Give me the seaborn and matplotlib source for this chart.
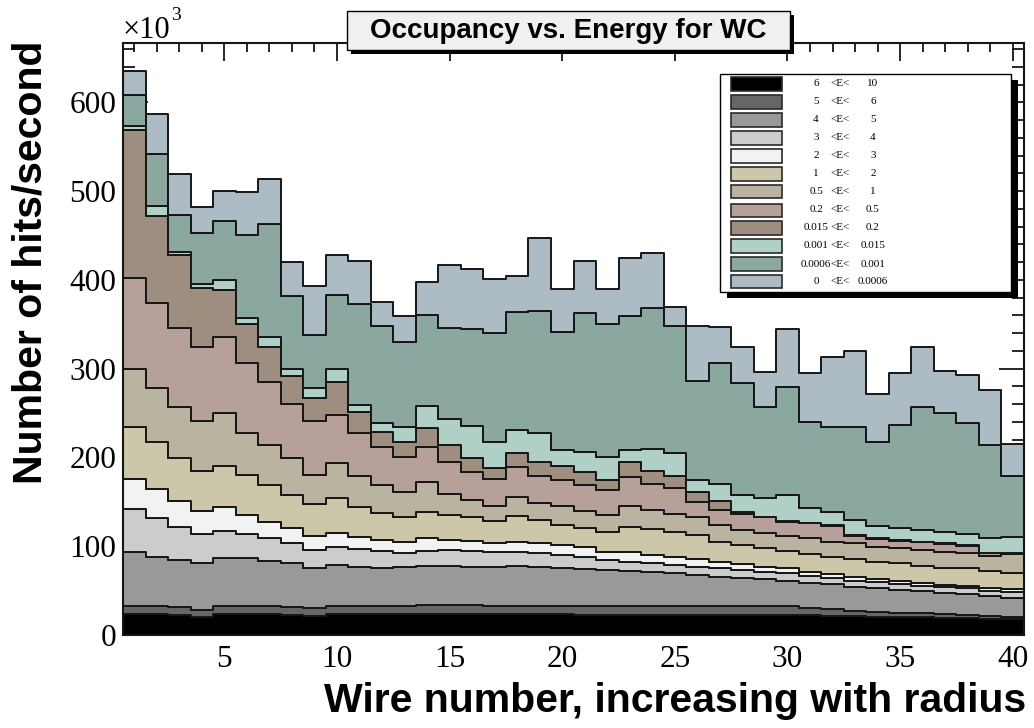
import numpy as np
import pandas as pd
import matplotlib
matplotlib.use("Agg")
import matplotlib.pyplot as plt
from matplotlib.patches import Rectangle
from matplotlib.ticker import MultipleLocator
import seaborn as sns

# Wire index (bin centres) and energy bands, lowest band of the stack first
wires = np.arange(1, 41)
band_lo = ["6", "5", "4", "3", "2", "1", "0.5", "0.2", "0.015", "0.001", "0.0006", "0"]
band_hi = ["10", "6", "5", "4", "3", "2", "1", "0.5", "0.2", "0.015", "0.001", "0.0006"]
band_colors = ["#000000", "#666666", "#999999", "#cccccc", "#f2f2f2", "#ccc7a8",
               "#b9b3a0", "#b7a099", "#9d8e80", "#b0cfc7", "#8aa7a0", "#adbbc5"]

# Hits/second per wire (x10^3) in each energy band
rate_6_10 = [23.3, 23.3, 22.5, 19.9, 23.3, 23.3, 23.3, 22.5, 21.8, 23.3,
             23.3, 23.3, 23.3, 23.3, 23.3, 23.3, 23.3, 23.3, 23.3, 23.3,
             23.0, 23.0, 23.0, 23.0, 23.0, 22.8, 22.8, 22.6, 22.6, 22.5,
             22.3, 21.8, 21.3, 20.8, 20.3, 19.8, 19.3, 18.8, 18.3, 17.7]
rate_5_6 = [9.7, 9.7, 8.6, 8.3, 9.7, 9.7, 9.7, 9.4, 8.2, 9.7,
            9.3, 9.3, 9.3, 10.5, 10.5, 10.5, 9.7, 9.7, 9.7, 9.7,
            9.8, 9.8, 9.8, 9.8, 9.8, 10.0, 10.0, 9.8, 9.8, 9.9,
            7.7, 7.2, 6.1, 5.5, 4.9, 4.6, 4.0, 3.7, 3.1, 2.2]
rate_4_5 = [60.9, 55.3, 53.4, 52.6, 53.4, 53.4, 50.7, 48.9, 45.1, 45.5,
            44.4, 43.3, 43.7, 43.9, 43.9, 43.2, 43.3, 44.7, 44.0, 42.9,
            41.7, 40.4, 39.3, 37.8, 36.7, 34.8, 32.9, 32.2, 30.7, 28.8,
            28.9, 28.1, 27.0, 26.3, 25.5, 24.8, 24.4, 23.7, 22.5, 22.1]
rate_3_4 = [47.7, 43.2, 37.5, 33.0, 31.1, 27.4, 25.3, 22.5, 20.7, 21.0,
            20.0, 19.1, 16.5, 16.9, 18.1, 18.0, 16.9, 16.2, 15.8, 14.2,
            13.8, 11.3, 10.5, 10.2, 9.4, 9.4, 9.4, 8.6, 8.2, 8.3,
            7.7, 6.8, 6.8, 6.8, 6.8, 6.3, 6.0, 6.4, 6.0, 6.8]
rate_2_3 = [33.8, 32.7, 29.3, 26.2, 26.3, 21.4, 18.7, 16.9, 15.7, 15.5,
            13.4, 12.0, 12.3, 14.4, 11.2, 11.3, 10.8, 11.2, 10.5, 11.3,
            11.2, 9.4, 11.3, 9.3, 9.4, 8.3, 7.5, 6.8, 5.7, 5.6,
            4.7, 4.8, 4.5, 3.7, 3.3, 2.8, 2.6, 2.9, 3.4, 3.0]
rate_1_2 = [59.3, 53.6, 47.7, 45.2, 47.0, 45.1, 41.3, 37.5, 36.1, 39.0,
            34.2, 30.9, 27.5, 29.9, 28.2, 26.3, 24.5, 29.0, 26.3, 22.6,
            20.7, 22.5, 28.1, 29.3, 28.1, 27.4, 22.5, 21.4, 21.4, 19.5,
            20.0, 19.6, 19.6, 19.5, 20.0, 19.8, 19.6, 19.6, 19.1, 18.4]
rate_05_1 = [64.7, 60.9, 58.3, 55.8, 59.0, 47.7, 45.0, 41.3, 32.7, 40.0,
             34.6, 31.1, 28.9, 33.1, 23.3, 19.5, 16.9, 21.7, 19.4, 21.4,
             19.5, 18.8, 23.4, 21.4, 19.9, 19.9, 18.9, 16.9, 16.9, 16.9,
             17.7, 16.8, 18.0, 16.9, 16.9, 17.7, 18.0, 16.9, 16.6, 21.1]
rate_02_05 = [102.6, 95.0, 88.3, 83.8, 86.3, 78.0, 71.4, 61.3, 61.2, 53.9,
              48.1, 43.2, 38.7, 40.2, 36.1, 31.9, 30.4, 33.8, 30.2, 29.2,
              29.3, 28.2, 33.0, 29.3, 29.0, 16.9, 16.8, 17.7, 17.3, 16.2,
              16.9, 18.1, 8.2, 8.7, 8.2, 8.6, 8.6, 8.6, 3.0, 0.7]
rate_0015_02 = [167.0, 98.8, 82.4, 65.8, 52.6, 44.4, 38.8, 31.9, 25.2, 37.5,
                24.3, 16.9, 16.8, 20.7, 19.4, 15.0, 12.0, 15.8, 16.1, 16.2,
                15.0, 11.2, 16.2, 15.1, 13.9, 11.3, 10.5, 2.9, 0.8, 0.9,
                0.8, 0.8, 0.8, 0.8, 0.7, 0.7, 0.7, 0.7, 0.8, 0.6]
rate_0001_0015 = [4.5, 10.9, 3.9, 4.9, 11.3, 7.1, 11.2, 7.2, 11.3, 14.0,
                  7.6, 10.1, 17.8, 24.6, 29.4, 36.0, 30.2, 26.1, 32.2, 17.2,
                  22.0, 25.4, 14.4, 24.8, 25.8, 13.8, 18.8, 18.8, 21.3, 28.7,
                  16.9, 14.9, 17.3, 14.2, 13.6, 13.2, 13.2, 12.5, 16.2, 18.2]
rate_00006_0001 = [35.0, 58.6, 41.7, 57.1, 66.8, 93.2, 127.4, 82.9, 60.0, 83.7,
                   113.8, 109.3, 95.2, 103.1, 102.2, 109.4, 122.6, 132.8, 137.9, 133.8,
                   157.2, 150.4, 150.4, 158.1, 143.5, 111.9, 136.7, 126.6, 101.9, 122.5,
                   96.8, 95.9, 105.2, 94.6, 116.4, 138.3, 133.8, 124.7, 105.5, 68.5]
rate_0_00006 = [27.0, 44.7, 45.4, 29.4, 33.2, 48.3, 51.2, 38.3, 55.0, 45.4,
                48.0, 27.1, 29.0, 37.4, 71.4, 67.6, 60.4, 39.7, 82.3, 47.7,
                58.2, 39.6, 65.6, 62.3, 21.5, 61.3, 40.2, 40.5, 39.4, 65.0,
                54.5, 78.8, 85.2, 53.7, 58.3, 68.2, 47.6, 54.8, 61.5, 35.7]

band_rates = [rate_6_10, rate_5_6, rate_4_5, rate_3_4, rate_2_3, rate_1_2,
              rate_05_1, rate_02_05, rate_0015_02, rate_0001_0015,
              rate_00006_0001, rate_0_00006]

band_names = [f"{lo} <E< {hi}" for lo, hi in zip(band_lo, band_hi)]
df = pd.DataFrame({
    "wire": np.tile(wires, len(band_names)),
    "rate": np.concatenate(band_rates),
    "band": np.repeat(band_names, len(wires)),
})
palette = dict(zip(band_names, band_colors))

W, H = 1034, 728
sns.set_style("ticks")
plt.rcParams["font.family"] = ["Liberation Serif", "DejaVu Serif"]
plt.rcParams["text.color"] = "black"
plt.rcParams["axes.labelcolor"] = "black"
plt.rcParams["xtick.color"] = "black"
plt.rcParams["ytick.color"] = "black"

fig = plt.figure(figsize=(W / 100, H / 100), dpi=100)
fig.patch.set_facecolor("white")

# plot frame in pixel units: left 123, right 1024, top 43, bottom 635
ax = fig.add_axes([123 / W, 1 - 635 / H, (1024 - 123) / W, (635 - 43) / H])

# one unit-wide bin per wire; seaborn stacks the first hue level on top,
# so the bands are listed top-down
sns.histplot(data=df, x="wire", weights="rate", hue="band",
             hue_order=band_names[::-1], palette=palette,
             multiple="stack", element="step", discrete=True,
             alpha=1, linewidth=1.4, edgecolor="#161616",
             legend=False, ax=ax)

ax.set_xlim(0.5, 40.5)
ax.set_ylim(0, 667)
ax.set_xlabel("")
ax.set_ylabel("")
ax.xaxis.set_major_locator(MultipleLocator(5))
ax.xaxis.set_minor_locator(MultipleLocator(1))
ax.yaxis.set_major_locator(MultipleLocator(100))
ax.yaxis.set_minor_locator(MultipleLocator(20))
ax.tick_params(which="both", direction="in", top=True, right=True,
               width=1.3, color="#161616", labelcolor="black", labelsize=22.5)
ax.tick_params(axis="x", which="major", length=13, pad=7)
ax.tick_params(axis="x", which="minor", length=6.5)
ax.tick_params(axis="y", which="major", length=18, pad=5)
ax.tick_params(axis="y", which="minor", length=8.6)
for sp in ax.spines.values():
    sp.set_linewidth(1.5)
    sp.set_color("#161616")


def px_rect(x0, y0, x1, y1, **kw):
    """Rectangle given in figure pixel coordinates (origin top-left)."""
    r = Rectangle((x0 / W, 1 - y1 / H), (x1 - x0) / W, (y1 - y0) / H,
                  transform=fig.transFigure, **kw)
    fig.add_artist(r)
    return r


def px_text(x, y, s, **kw):
    kw.setdefault("color", "black")
    return fig.text(x / W, 1 - y / H, s, **kw)


# axis scale factor
px_text(123, 30, "\u00d710", ha="left", va="center", fontsize=22)
px_text(171, 15, "3", ha="left", va="center", fontsize=14)

# title box with drop shadow
px_rect(351, 15, 794, 54, facecolor="black", edgecolor="none", zorder=5)
px_rect(347, 11, 790, 50, facecolor="#f0f0f0", edgecolor="black",
        linewidth=1.0, zorder=6)
px_text(568, 31, "Occupancy vs. Energy for WC", ha="center", va="center",
        fontsize=20, fontweight="bold", family="Liberation Sans", zorder=7)

# legend box with drop shadow
px_rect(727, 80, 1018, 298, facecolor="black", edgecolor="none", zorder=5)
px_rect(720, 74, 1011, 292, facecolor="white", edgecolor="black",
        linewidth=1.0, zorder=6)
for i, (lo, hi, col) in enumerate(zip(band_lo, band_hi, band_colors)):
    yc = 84 + 18 * i
    px_rect(731, yc - 6.5, 782, yc + 6.5, facecolor=col, edgecolor="#2a2a2a",
            linewidth=1.2, zorder=7)
    px_text(816, yc, lo, ha="center", va="center", fontsize=8, zorder=8)
    px_text(840, yc, "<E<", ha="center", va="center", fontsize=8, zorder=8)
    px_text(873, yc, hi, ha="center", va="center", fontsize=8, zorder=8)

# axis titles
px_text(31, 262, "Number of hits/second", rotation=90, ha="center",
        va="center", fontsize=29.5, fontweight="bold", family="Liberation Sans")
px_text(1026, 701, "Wire number, increasing with radius", ha="right",
        va="center", fontsize=29.5, fontweight="bold", family="Liberation Sans")

fig.savefig("out.png", dpi=100)
